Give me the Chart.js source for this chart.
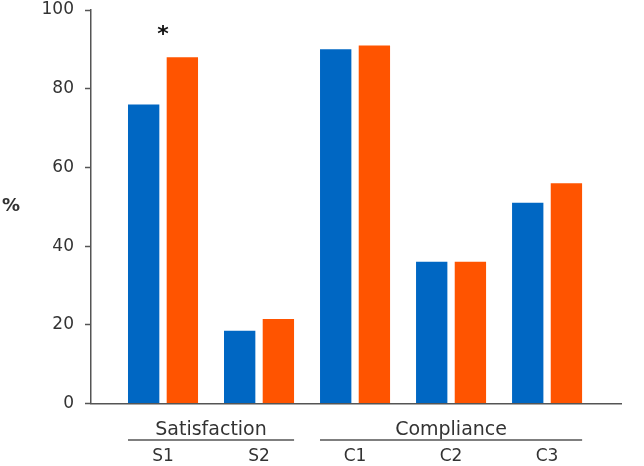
<!DOCTYPE html>
<html>
<head>
<meta charset="utf-8">
<script src="https://cdn.jsdelivr.net/npm/chart.js@4/dist/chart.umd.min.js"></script>
<style>
  html, body { margin: 0; padding: 0; background: #fff; }
  #wrap { width: 644px; height: 466px; }
</style>
</head>
<body>
<div id="wrap"><canvas id="myChart" width="644" height="466"></canvas></div>
<script>
// data
const items = ['S1', 'S2', 'C1', 'C2', 'C3'];
const groups = ['Satisfaction', 'Compliance'];
const groupStart = [0, 2];
const groupEnd = [1, 4];
const blueValues = [76, 18.5, 90, 36, 51];
const orangeValues = [88, 21.5, 91, 36, 56];
const yTicks = [0, 20, 40, 60, 80, 100];
const starItem = 0;   // asterisk over S1
const starValue = 94.5;

const axisColor = '#555555';
const textColor = '#333333';
const font = 'DejaVu Sans';

const toPoints = (arr) => arr.map((v, i) => ({ x: i, y: v }));

// draws the two-level x labels, the % label and the asterisk
const extraText = {
  id: 'extraText',
  afterDraw(chart) {
    const ctx = chart.ctx;
    const x = chart.scales.x;
    const y = chart.scales.y;
    ctx.save();
    ctx.fillStyle = textColor;
    ctx.textAlign = 'center';
    ctx.textBaseline = 'middle';

    ctx.font = '19px "' + font + '"';
    for (let g = 0; g < groups.length; g++) {
      const left = x.getPixelForValue(groupStart[g] - 0.365);
      const right = x.getPixelForValue(groupEnd[g] + 0.365);
      ctx.fillText(groups[g], (left + right) / 2, 430);
      ctx.strokeStyle = axisColor;
      ctx.lineWidth = 1.5;
      ctx.beginPath();
      ctx.moveTo(left, 440);
      ctx.lineTo(right, 440);
      ctx.stroke();
    }

    ctx.font = '17px "' + font + '"';
    for (let i = 0; i < items.length; i++) {
      ctx.fillText(items[i], x.getPixelForValue(i), 457);
    }

    ctx.font = 'bold 18px "' + font + '"';
    ctx.textAlign = 'left';
    ctx.fillText('%', 2, y.getPixelForValue(50));

    ctx.textAlign = 'center';
    ctx.fillStyle = '#111';
    ctx.font = 'bold 22px "' + font + '"';
    ctx.fillText('*', x.getPixelForValue(starItem), y.getPixelForValue(starValue) + 4);
    ctx.restore();
  }
};

const ctx = document.getElementById('myChart');

new Chart(ctx, {
  type: 'bar',
  data: {
    datasets: [
      {
        data: toPoints(blueValues),
        backgroundColor: '#0067c3',
        categoryPercentage: 0.806,
        barPercentage: 0.81
      },
      {
        data: toPoints(orangeValues),
        backgroundColor: '#ff5400',
        categoryPercentage: 0.806,
        barPercentage: 0.81
      }
    ]
  },
  options: {
    responsive: false,
    animation: false,
    layout: { padding: { top: 10, right: 23, left: 0, bottom: 0 } },
    plugins: {
      legend: { display: false },
      tooltip: { enabled: false }
    },
    scales: {
      x: {
        type: 'linear',
        min: -0.75,
        max: 4.77,
        offset: false,
        afterBuildTicks: (scale) => { scale.ticks = items.map((s, i) => ({ value: i })); },
        grid: { display: false, offset: false },
        border: { color: axisColor, width: 1.5 },
        ticks: { display: false },
        afterFit: (scale) => { scale.height = 62.5; }
      },
      y: {
        min: 0,
        max: 100,
        afterBuildTicks: (scale) => { scale.ticks = yTicks.map(v => ({ value: v })); },
        grid: {
          drawOnChartArea: false,
          tickLength: 6,
          tickColor: axisColor,
          tickWidth: 1.5
        },
        border: { color: axisColor, width: 1.5 },
        ticks: {
          color: textColor,
          padding: 11,
          font: { family: font, size: 17 }
        },
        afterFit: (scale) => {
          scale.width = 91;
          scale.paddingTop = 0;
          scale.paddingBottom = 0;
        }
      }
    }
  },
  plugins: [extraText]
});
</script>
</body>
</html>
